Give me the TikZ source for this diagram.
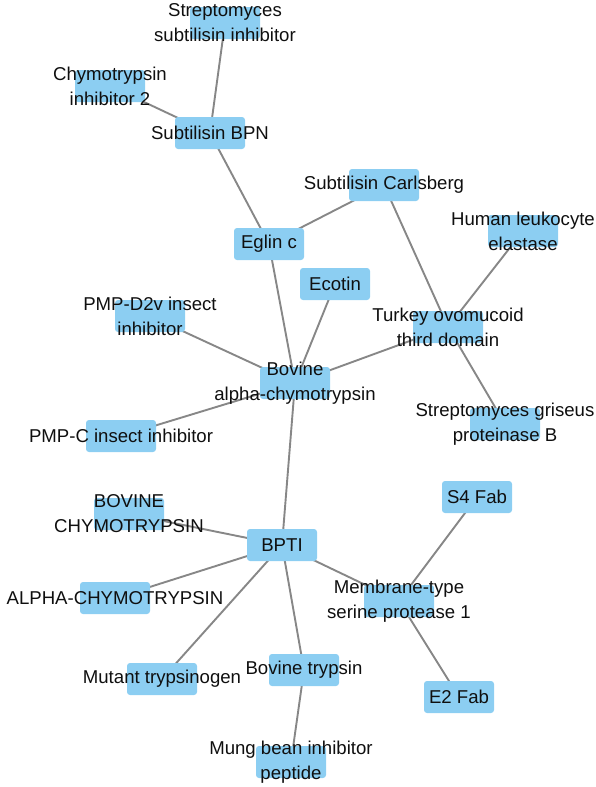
\documentclass[tikz,border=0pt]{standalone}
\usepackage{fontspec}
\setmainfont{Liberation Sans}
\usetikzlibrary{backgrounds}
\definecolor{boxblue}{RGB}{140,206,242}
\definecolor{edgegray}{RGB}{135,135,135}
\definecolor{txt}{RGB}{15,15,15}
\tikzset{
  pbox/.style={draw=none, fill=boxblue, rounded corners=3pt, minimum width=70pt, minimum height=32pt, inner sep=0pt},
  lbl/.style={font=\fontsize{18.6}{25}\selectfont, text=txt, align=center, inner sep=0pt},
  link/.style={draw=edgegray, line width=1.9pt}
}
\newcommand{\pnode}[4]{\node[pbox, label={[lbl]center:{#4}}] (#1) at (#2,#3) {};}
\begin{document}
\begin{tikzpicture}[x=1pt,y=-1pt]
\useasboundingbox (0,0) rectangle (596,787);
\pnode{ssi}{225}{23}{Streptomyces\\subtilisin inhibitor}
\pnode{ci}{110}{86}{Chymotrypsin\\inhibitor 2}
\pnode{bpn}{210}{133}{Subtilisin BPN}
\pnode{carl}{384}{185}{Subtilisin Carlsberg}
\pnode{eglin}{269}{244}{Eglin c}
\pnode{hle}{523}{231}{Human leukocyte\\elastase}
\pnode{ecotin}{335}{284}{Ecotin}
\pnode{turkey}{448}{327}{Turkey ovomucoid\\third domain}
\pnode{bac}{295}{383}{Bovine\\alpha-chymotrypsin}
\pnode{sgpb}{505}{424}{Streptomyces griseus\\proteinase B}
\pnode{pmpd}{150}{316}{PMP-D2v insect\\inhibitor}
\pnode{pmpc}{121}{436}{PMP-C insect inhibitor}
\pnode{bchy}{129}{514}{BOVINE\\CHYMOTRYPSIN}
\pnode{bpti}{282}{545}{BPTI}
\pnode{achy}{115}{598}{ALPHA-CHYMOTRYPSIN}
\pnode{mut}{162}{679}{Mutant trypsinogen}
\pnode{btryp}{304}{670}{Bovine trypsin}
\pnode{mung}{291}{762}{Mung bean inhibitor\\peptide}
\pnode{mtsp}{399}{601}{Membrane-type\\serine protease 1}
\pnode{sfour}{477}{497}{S4 Fab}
\pnode{etwo}{459}{697}{E2 Fab}
\begin{scope}[on background layer]
\draw[link] (ssi.center) -- (bpn.center);
\draw[link] (ci.center) -- (bpn.center);
\draw[link] (bpn.center) -- (eglin.center);
\draw[link] (eglin.center) -- (carl.center);
\draw[link] (eglin.center) -- (bac.center);
\draw[link] (ecotin.center) -- (bac.center);
\draw[link] (carl.center) -- (turkey.center);
\draw[link] (hle.center) -- (turkey.center);
\draw[link] (turkey.center) -- (bac.center);
\draw[link] (turkey.center) -- (sgpb.center);
\draw[link] (pmpd.center) -- (bac.center);
\draw[link] (pmpc.center) -- (bac.center);
\draw[link] (bac.center) -- (bpti.center);
\draw[link] (bchy.center) -- (bpti.center);
\draw[link] (achy.center) -- (bpti.center);
\draw[link] (mut.center) -- (bpti.center);
\draw[link] (btryp.center) -- (bpti.center);
\draw[link] (mtsp.center) -- (bpti.center);
\draw[link] (btryp.center) -- (mung.center);
\draw[link] (mtsp.center) -- (sfour.center);
\draw[link] (mtsp.center) -- (etwo.center);
\end{scope}
\end{tikzpicture}
\end{document}
